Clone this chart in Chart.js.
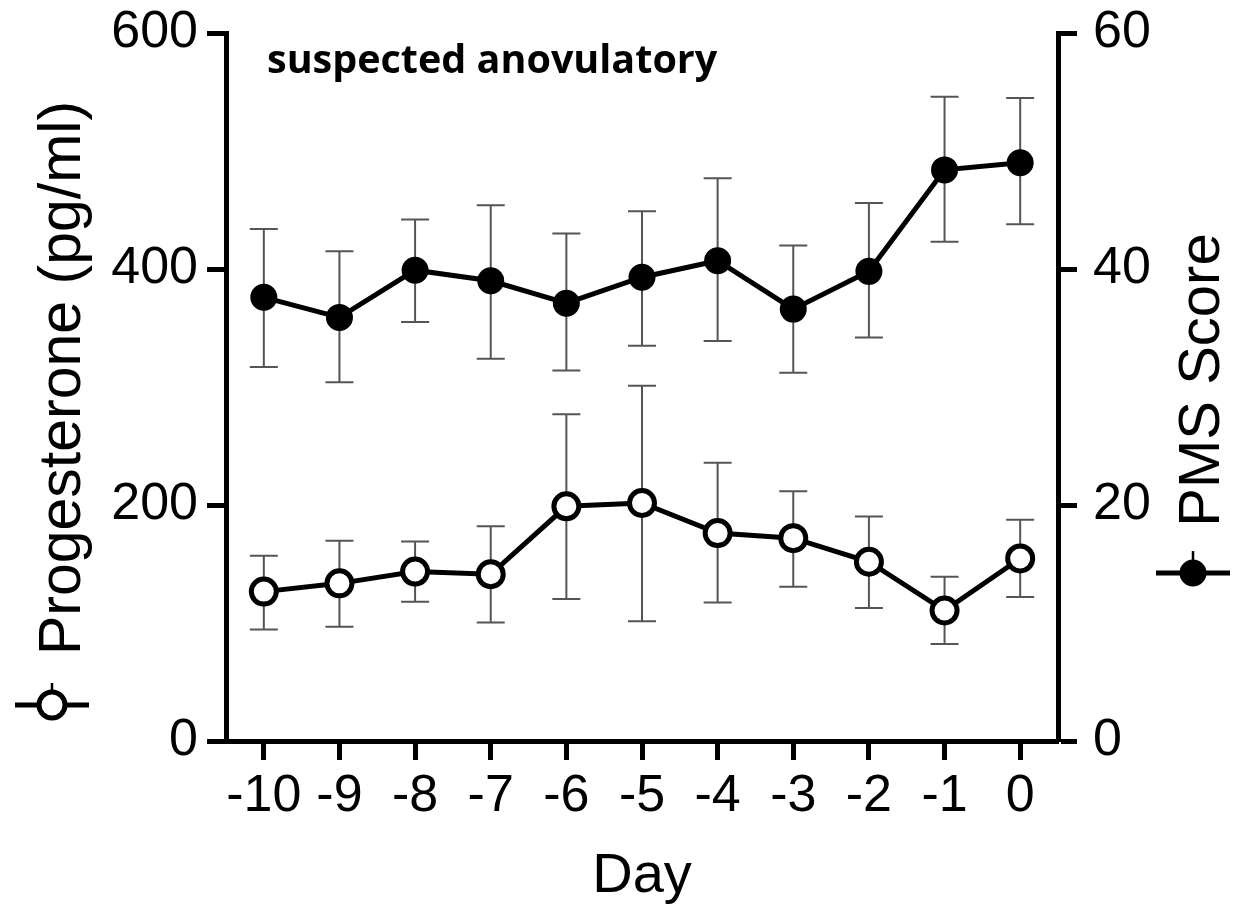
<!DOCTYPE html>
<html>
<head>
<meta charset="utf-8">
<script src="https://cdn.jsdelivr.net/npm/chart.js@4.4.1/dist/chart.umd.min.js"></script>
<style>
  html, body { margin: 0; padding: 0; background: #fff; }
  #wrap { width: 1236px; height: 916px; }
</style>
</head>
<body>
<div id="wrap"><canvas id="c" width="1236" height="916"></canvas></div>
<script>
// ---- data ----
const days = ['-10', '-9', '-8', '-7', '-6', '-5', '-4', '-3', '-2', '-1', '0'];

const progesterone      = [126.6, 133.6, 143.6, 141.3, 198.9, 201.7, 176.2, 171.9, 151.9, 110.6, 154.7];
const progesteroneUpper = [156.9, 169.6, 169.0, 181.9, 276.9, 301.0, 235.7, 211.7, 190.2, 139.1, 187.4];
const progesteroneLower = [ 94.5,  96.8, 118.0, 100.4, 120.3, 101.5, 117.4, 130.8, 112.7,  82.3, 122.0];

const pmsScore      = [37.6, 35.9, 39.9, 39.0, 37.1, 39.3, 40.7, 36.6, 39.8, 48.4, 49.0];
const pmsScoreUpper = [43.4, 41.5, 44.2, 45.4, 43.0, 44.9, 47.7, 42.0, 45.6, 54.6, 54.5];
const pmsScoreLower = [31.7, 30.4, 35.5, 32.4, 31.4, 33.5, 33.9, 31.2, 34.2, 42.3, 43.8];

const leftTicks  = [0, 200, 400, 600];
const rightTicks = [0, 20, 40, 60];

const leftTitle  = 'Progesterone (pg/ml)';
const rightTitle = 'PMS Score';
const xTitle     = 'Day';
const panelLabel = 'suspected anovulatory';

const FONT = "'Liberation Sans', Arial, Helvetica, sans-serif";
Chart.defaults.font.family = FONT;
Chart.defaults.color = '#000';

// ---- error bar plugin (uses chart scales) ----
const errorBars = {
  id: 'errorBars',
  beforeDatasetsDraw(chart) {
    const ctx = chart.ctx;
    const xs = chart.scales.x;
    ctx.save();
    ctx.strokeStyle = '#555';
    ctx.lineWidth = 2;
    chart.data.datasets.forEach(ds => {
      const ys = chart.scales[ds.yAxisID];
      ds.errLow.forEach((lo, j) => {
        const hi = ds.errHigh[j];
        const px = xs.getPixelForValue(j);
        const pLo = ys.getPixelForValue(lo);
        const pHi = ys.getPixelForValue(hi);
        const cap = 14;
        ctx.beginPath();
        ctx.moveTo(px, pLo); ctx.lineTo(px, pHi);
        ctx.moveTo(px - cap, pLo); ctx.lineTo(px + cap, pLo);
        ctx.moveTo(px - cap, pHi); ctx.lineTo(px + cap, pHi);
        ctx.stroke();
      });
    });
    ctx.restore();
  }
};

// ---- axis titles with legend symbols, panel label ----
const decorations = {
  id: 'decorations',
  afterDraw(chart) {
    const ctx = chart.ctx;
    const area = chart.chartArea;
    ctx.save();
    ctx.fillStyle = '#000';

    // panel label
    ctx.font = "bold 39.5px 'Open Sans', 'Liberation Sans', sans-serif";
    ctx.textAlign = 'left';
    ctx.textBaseline = 'alphabetic';
    ctx.fillText(panelLabel, area.left + 41, 73);

    // left title (rotated, reads bottom-to-top)
    ctx.font = '59px ' + FONT;
    ctx.textAlign = 'center';
    ctx.save();
    ctx.translate(80, 378);
    ctx.rotate(-Math.PI / 2);
    ctx.fillText(leftTitle, 0, 0);
    ctx.restore();

    // right title
    ctx.font = '58px ' + FONT;
    ctx.save();
    ctx.translate(1219, 380);
    ctx.rotate(-Math.PI / 2);
    ctx.fillText(rightTitle, 0, 0);
    ctx.restore();

    // legend symbols
    function symbol(cx, cy, filled) {
      ctx.strokeStyle = '#000';
      ctx.lineWidth = 5;
      ctx.beginPath();
      ctx.moveTo(cx - 37, cy); ctx.lineTo(cx + 37, cy);
      ctx.stroke();
      ctx.lineWidth = 2.5;
      ctx.beginPath();
      ctx.moveTo(cx, cy - 22); ctx.lineTo(cx, cy);
      ctx.stroke();
      ctx.beginPath();
      ctx.arc(cx, cy, filled ? 11 : 13, 0, Math.PI * 2);
      ctx.fillStyle = filled ? '#000' : '#fff';
      ctx.fill();
      ctx.lineWidth = 5;
      ctx.stroke();
    }
    symbol(52, 705, false);
    symbol(1193, 573, true);
    ctx.restore();
  }
};

const tickGrid = {
  display: true,
  drawOnChartArea: false,
  drawTicks: true,
  tickLength: 19,
  tickWidth: 5,
  tickColor: '#000',
  offset: false
};

function fixY(width) {
  return function (s) {
    s.width = width;
    s.paddingTop = 0;
    s.paddingBottom = 0;
  };
}

new Chart(document.getElementById('c'), {
  type: 'line',
  data: {
    labels: days,
    datasets: [
      {
        label: 'PMS Score',
        data: pmsScore,
        errHigh: pmsScoreUpper,
        errLow: pmsScoreLower,
        yAxisID: 'yR',
        borderColor: '#000',
        borderWidth: 5,
        tension: 0,
        pointStyle: 'circle',
        pointRadius: 11,
        pointBorderWidth: 5,
        pointBackgroundColor: '#000',
        pointBorderColor: '#000'
      },
      {
        label: 'Progesterone',
        data: progesterone,
        errHigh: progesteroneUpper,
        errLow: progesteroneLower,
        yAxisID: 'yL',
        borderColor: '#000',
        borderWidth: 5,
        tension: 0,
        pointStyle: 'circle',
        pointRadius: 12.5,
        pointBorderWidth: 5,
        pointBackgroundColor: '#fff',
        pointBorderColor: '#000'
      }
    ]
  },
  options: {
    responsive: false,
    devicePixelRatio: 1,
    animation: false,
    layout: { padding: { top: 33, left: 0, right: 0, bottom: 0 } },
    plugins: { legend: { display: false }, tooltip: { enabled: false } },
    scales: {
      x: {
        type: 'category',
        offset: true,
        grid: tickGrid,
        border: { display: true, color: '#000', width: 5 },
        ticks: { color: '#000', font: { size: 52 }, padding: 5, maxRotation: 0, autoSkip: false },
        title: { display: true, text: xTitle, color: '#000', font: { size: 56 }, padding: { top: 0, bottom: 6 } },
        afterFit(s) { s.height = 175; s.paddingLeft = 0; s.paddingRight = 0; }
      },
      yL: {
        position: 'left',
        min: 0, max: 600,
        afterBuildTicks(s) { s.ticks = leftTicks.map(v => ({ value: v })); },
        grid: tickGrid,
        border: { display: true, color: '#000', width: 5 },
        ticks: { color: '#000', font: { size: 52 }, padding: 9 },
        afterFit: fixY(226)
      },
      yR: {
        position: 'right',
        min: 0, max: 60,
        afterBuildTicks(s) { s.ticks = rightTicks.map(v => ({ value: v })); },
        grid: tickGrid,
        border: { display: true, color: '#000', width: 5 },
        ticks: { color: '#000', font: { size: 52 }, padding: 16 },
        afterFit: fixY(178)
      }
    }
  },
  plugins: [errorBars, decorations]
});
</script>
</body>
</html>
